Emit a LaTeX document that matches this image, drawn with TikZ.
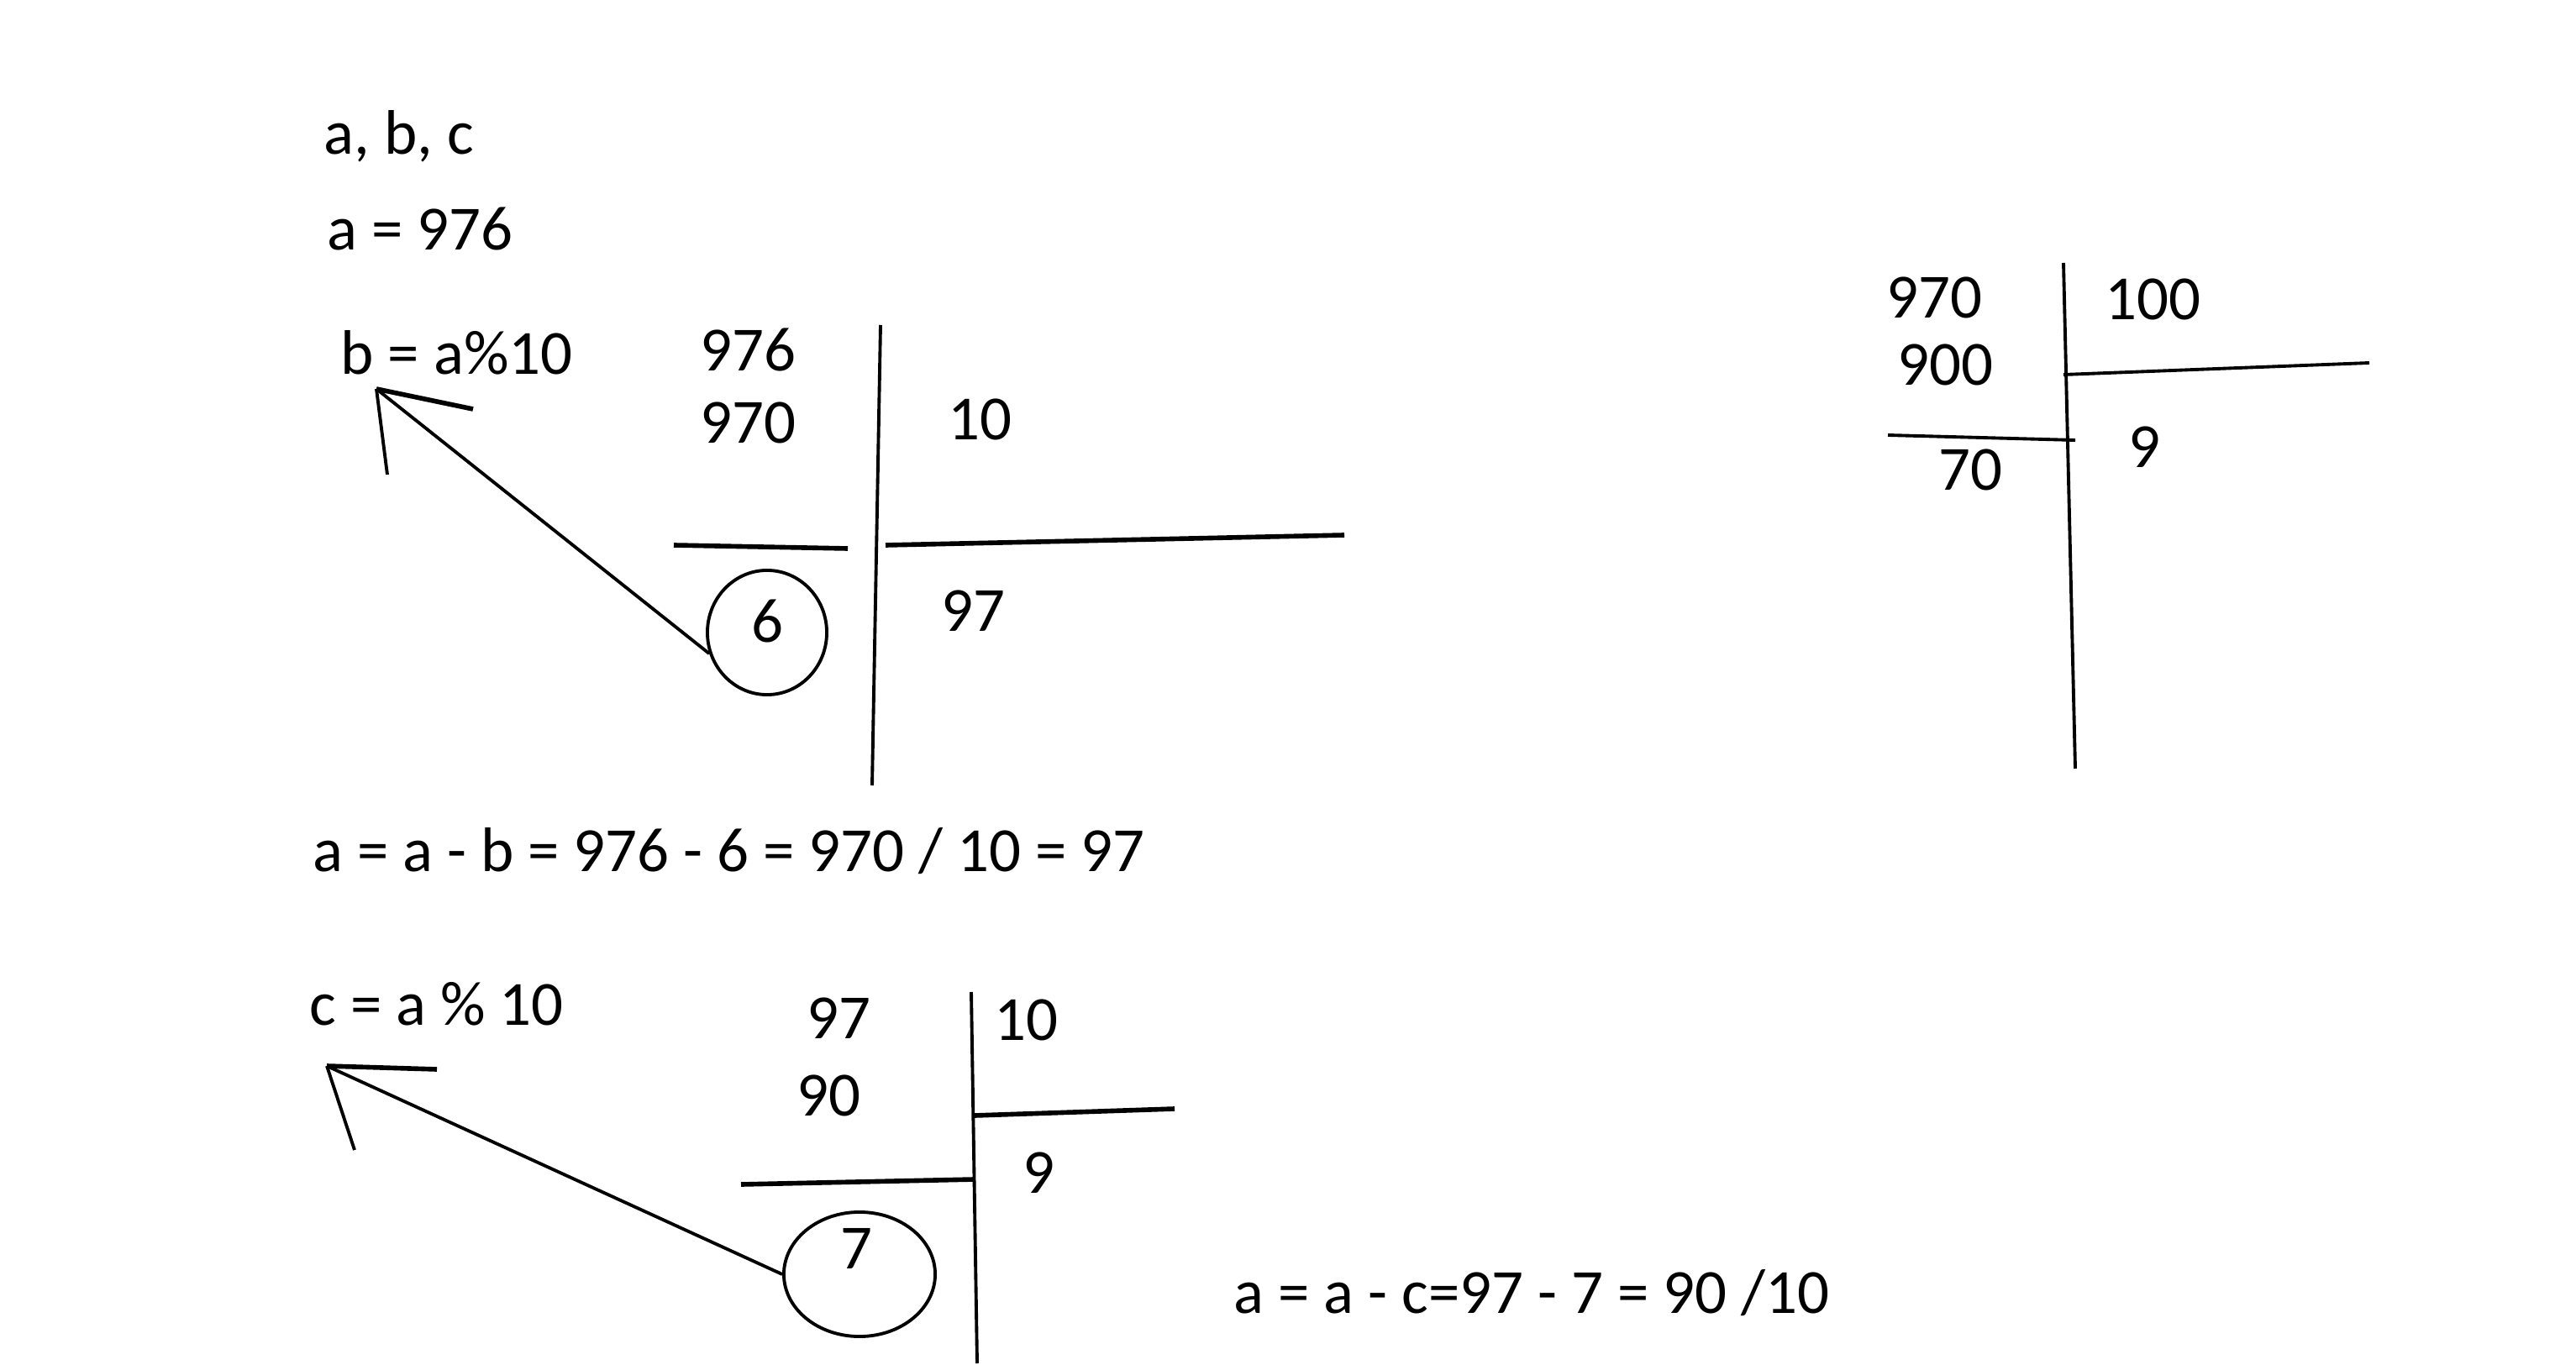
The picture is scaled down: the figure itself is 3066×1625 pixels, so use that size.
\documentclass[tikz,border=0pt]{standalone}
\usepackage{fontspec}
\setmainfont{Carlito}
\usetikzlibrary{shapes.geometric}

\begin{document}
\begin{tikzpicture}[x=0.01cm, y=-0.01cm,
	every node/.style={font=\fontsize{21.3}{25}\selectfont, inner sep=0pt},
	pen/.style={line width=1.1pt},
	bar/.style={line width=1.6pt},
	ring/.style={draw, ellipse, line width=1.1pt}]
	\useasboundingbox (0,0) rectangle (3066,1625);

	% first step: b = a % 10
	\node [anchor=west] (vars) at (385,162) {a, b, c};
	\node [anchor=west] (start) at (389,272) {a = 976};
	\node [anchor=west] (getb) at (405,420) {b = a\%10};
	\node [anchor=west] (n976) at (833,416) {976};
	\node [anchor=west] (n970) at (833,503) {970};
	\node [anchor=west] (d10) at (1128,499) {10};
	\node (q97) at (1158,727) {97};
	\node (r6) at (913,739) {6};
	\node [ring, minimum width=1.42cm, minimum height=1.48cm] (ring6) at (913,753) {};
	\coordinate (T1) at (1048,387);
	\coordinate (B1) at (1038,935);
	\draw [pen] (T1) -- (B1);
	\draw [bar] (802,649) -- (1009,653);
	\draw [bar] (1054,649) -- (1600,637);
	\coordinate (tipb) at (448,463);
	\draw [pen] (ring6.200) -- (tipb);
	\draw [bar] (tipb) -- (563,487);
	\draw [pen] (tipb) -- (461,565);

	\node [anchor=west] (step1) at (372,1013) {a = a - b = 976 - 6 = 970 / 10 = 97};

	% second step: c = a % 10
	\node [anchor=west] (getc) at (368,1195) {c = a \% 10};
	\node [anchor=west] (n97) at (960,1212) {97};
	\node [anchor=west] (n90) at (948,1304) {90};
	\node [anchor=west] (e10) at (1183,1214) {10};
	\node (q9) at (1236,1396) {9};
	\node (r7) at (1019,1486) {7};
	\node [ring, minimum width=1.8cm, minimum height=1.48cm] (ring7) at (1023,1517) {};
	\coordinate (T2) at (1156,1181);
	\coordinate (B2) at (1163,1623);
	\draw [pen] (T2) -- (B2);
	\draw [bar] (1160,1328) -- (1398,1320);
	\draw [bar] (882,1410) -- (1160,1404);
	\coordinate (tipc) at (389,1269);
	\draw [pen] (ring7.west) -- (tipc);
	\draw [bar] (tipc) -- (520,1273);
	\draw [pen] (tipc) -- (422,1369);

	\node [anchor=west] (step2) at (1468,1539) {a = a - c=97 - 7 = 90 /10};

	% side sum: 970 / 100
	\node [anchor=west] (m970) at (2245,354) {970};
	\node [anchor=west] (m900) at (2258,434) {900};
	\node [anchor=west] (m70) at (2307,559) {70};
	\node [anchor=west] (h100) at (2505,356) {100};
	\node (q9b) at (2552,532) {9};
	\coordinate (T3) at (2456,313);
	\coordinate (B3) at (2470,915);
	\draw [pen] (T3) -- (B3);
	\draw [pen] (2456,446) -- (2820,432);
	\draw [pen] (2247,518) -- (2470,524);
\end{tikzpicture}
\end{document}
